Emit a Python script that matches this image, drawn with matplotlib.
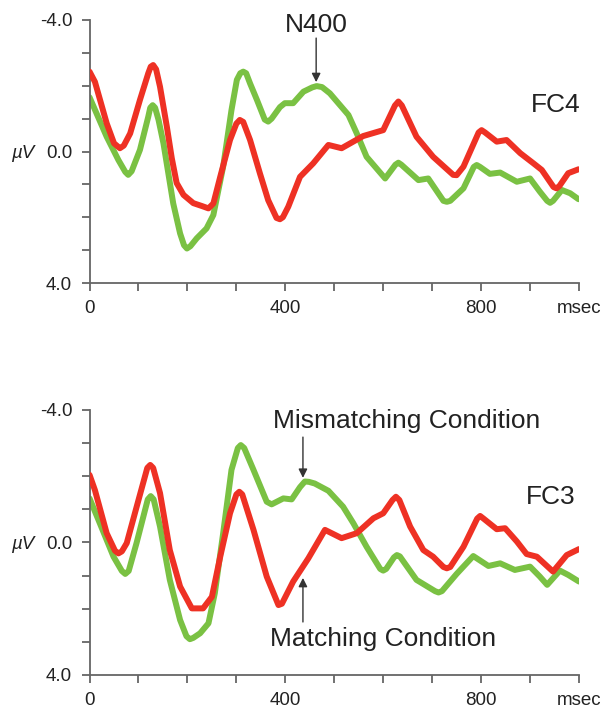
import matplotlib
matplotlib.use('Agg')
import matplotlib.pyplot as plt
import numpy as np

plt.rcParams['font.family'] = ['Liberation Sans', 'DejaVu Sans']

RED = '#EE3124'
GREEN = '#7AC143'
AXC = '#666666'

# FC4 (top) - matching (red) / mismatching (green), ms vs microvolts
fc4_red_t = [0, 11, 35, 50, 62, 70, 83, 103, 120, 125, 130, 136, 144, 158, 168, 178, 192, 212,
             230, 243, 253, 267, 287, 300, 307, 314, 328, 348, 365, 382, 389, 395, 406, 430,
             457, 488, 515, 559, 600, 624, 631, 638, 668, 702, 743, 750, 764, 795, 801, 808,
             832, 852, 880, 907, 924, 948, 954, 960, 978, 999]
fc4_red_v = [-2.43, -2.12, -0.86, -0.25, -0.1, -0.18, -0.55, -1.57, -2.38, -2.58, -2.63, -2.5,
             -1.97, -0.75, 0.2, 0.96, 1.32, 1.57, 1.66, 1.73, 1.58, 0.77, -0.35, -0.85, -0.96,
             -0.9, -0.35, 0.66, 1.48, 2.02, 2.06, 2.0, 1.68, 0.77, 0.36, -0.2, -0.1, -0.47,
             -0.65, -1.4, -1.52, -1.4, -0.45, 0.16, 0.71, 0.72, 0.46, -0.58, -0.65, -0.58,
             -0.3, -0.35, 0.05, 0.36, 0.56, 1.08, 1.12, 1.05, 0.66, 0.54]

fc4_green_t = [0, 35, 59, 73, 79, 86, 103, 120, 124, 129, 134, 141, 151, 171, 185, 193, 199,
               206, 219, 239, 253, 273, 290, 301, 308, 314, 320, 328, 342, 358, 365, 372, 389,
               399, 416, 437, 455, 464, 475, 491, 529, 546, 566, 604, 625, 631, 637, 672, 692,
               723, 730, 737, 764, 785, 791, 798, 818, 839, 873, 900, 920, 935, 941, 947, 965,
               982, 999]
fc4_green_v = [-1.65, -0.45, 0.26, 0.62, 0.71, 0.6, -0.05, -1.06, -1.33, -1.41, -1.33, -0.96,
               -0.25, 1.58, 2.49, 2.85, 2.95, 2.88, 2.64, 2.34, 1.93, 0.46, -1.26, -2.18, -2.38,
               -2.43, -2.38, -2.07, -1.57, -0.97, -0.91, -1.0, -1.35, -1.47, -1.47, -1.82,
               -1.95, -1.99, -1.96, -1.77, -1.11, -0.55, 0.16, 0.82, 0.4, 0.34, 0.4, 0.87,
               0.82, 1.5, 1.53, 1.5, 1.12, 0.47, 0.41, 0.47, 0.68, 0.64, 0.92, 0.82, 1.22, 1.5,
               1.56, 1.5, 1.17, 1.27, 1.45]

# FC3 (bottom)
fc3_red_t = [0, 11, 35, 52, 59, 66, 76, 100, 118, 124, 130, 144, 164, 185, 209, 232, 250, 267,
             287, 300, 306, 312, 335, 362, 386, 393, 416, 447, 481, 515, 546, 580, 600, 619,
             626, 633, 655, 682, 702, 723, 730, 737, 764, 792, 798, 805, 832, 849, 873, 893,
             914, 947, 975, 1000]
fc3_red_v = [-2.04, -1.58, -0.28, 0.25, 0.33, 0.27, 0.02, -1.28, -2.25, -2.34, -2.25, -1.49,
             0.23, 1.33, 1.99, 1.99, 1.64, 0.43, -0.88, -1.45, -1.53, -1.45, -0.38, 1.03, 1.89,
             1.85, 1.18, 0.48, -0.38, -0.13, -0.28, -0.73, -0.88, -1.28, -1.38, -1.28, -0.48,
             0.23, 0.43, 0.74, 0.78, 0.74, 0.13, -0.72, -0.8, -0.72, -0.4, -0.43, -0.03, 0.35,
             0.43, 0.88, 0.38, 0.2]

fc3_green_t = [0, 21, 49, 66, 73, 80, 96, 119, 125, 131, 144, 164, 185, 198, 205, 212, 226,
               243, 256, 273, 290, 303, 309, 316, 335, 362, 372, 396, 413, 430, 440, 448, 460,
               488, 518, 539, 566, 594, 600, 606, 622, 628, 634, 668, 706, 713, 720, 750, 784,
               815, 839, 869, 900, 920, 935, 961, 978, 1000]
fc3_green_v = [-1.33, -0.58, 0.43, 0.86, 0.95, 0.86, 0.02, -1.3, -1.40, -1.3, -0.48, 1.13,
               2.34, 2.83, 2.92, 2.88, 2.74, 2.44, 1.53, -0.28, -2.19, -2.85, -2.94, -2.85,
               -2.19, -1.23, -1.15, -1.33, -1.30, -1.67, -1.84, -1.83, -1.78, -1.56, -1.08,
               -0.58, 0.13, 0.8, 0.85, 0.8, 0.45, 0.38, 0.42, 1.13, 1.47, 1.51, 1.47, 0.95,
               0.41, 0.71, 0.63, 0.83, 0.73, 1.03, 1.28, 0.85, 0.98, 1.18]

x_labels = ['0', '400', '800', 'msec']
y_labels = ['-4.0', '0.0', '4.0']

fig = plt.figure(figsize=(6.05, 7.09), dpi=100)
ax_top = fig.add_axes([0.148, 0.6008, 0.809, 0.371])
ax_bot = fig.add_axes([0.148, 0.0480, 0.809, 0.3738])


def setup_axes(ax):
    ax.set_xlim(0, 1000)
    ax.set_ylim(4, -4)
    for s in ['top', 'right']:
        ax.spines[s].set_visible(False)
    for s in ['left', 'bottom']:
        ax.spines[s].set_color(AXC)
        ax.spines[s].set_linewidth(1.3)
    ax.set_xticks([0, 400, 800, 1000])
    ax.set_xticklabels(x_labels)
    ax.set_xticks(np.arange(0, 1001, 100), minor=True)
    ax.set_yticks([-4, 0, 4])
    ax.set_yticklabels(y_labels)
    ax.set_yticks(np.arange(-4, 5, 1), minor=True)
    ax.tick_params(which='both', direction='out', length=6, width=1.3, color=AXC)
    ax.tick_params(axis='x', labelsize=13.5, pad=6, labelcolor='#222222')
    ax.tick_params(axis='y', labelsize=13.5, pad=6.5, labelcolor='#222222')
    ax.text(-0.137, 0, 'µV', transform=ax.get_yaxis_transform(), fontsize=13.5,
            style='italic', ha='center', va='center_baseline', color='#222222')


for ax, rt, rv, gt, gv in [(ax_top, fc4_red_t, fc4_red_v, fc4_green_t, fc4_green_v),
                           (ax_bot, fc3_red_t, fc3_red_v, fc3_green_t, fc3_green_v)]:
    setup_axes(ax)
    ax.plot(rt, rv, color=RED, lw=4.3, solid_joinstyle='round', solid_capstyle='round', zorder=3)
    ax.plot(gt, gv, color=GREEN, lw=4.3, solid_joinstyle='round', solid_capstyle='round', zorder=2)

arrow = dict(arrowstyle='-|>', color='#333333', lw=1, mutation_scale=13, shrinkA=0, shrinkB=0)
ann_size = 19

ax_top.text(463, -3.85, 'N400', fontsize=ann_size, ha='center', va='center', color='#222222')
ax_top.annotate('', xy=(463, -2.11), xytext=(463, -3.45), arrowprops=arrow)
ax_top.text(953, -1.40, 'FC4', fontsize=ann_size, ha='center', va='center', color='#222222')

ax_bot.text(375, -3.67, 'Mismatching Condition', fontsize=ann_size, ha='left', va='center',
            color='#222222')
ax_bot.annotate('', xy=(436, -1.95), xytext=(436, -3.18), arrowprops=arrow)
ax_bot.text(369, 2.91, 'Matching Condition', fontsize=ann_size, ha='left', va='center',
            color='#222222')
ax_bot.annotate('', xy=(436, 1.07), xytext=(436, 2.40), arrowprops=arrow)
ax_bot.text(943, -1.37, 'FC3', fontsize=ann_size, ha='center', va='center', color='#222222')

fig.savefig('out.png', dpi=100)
